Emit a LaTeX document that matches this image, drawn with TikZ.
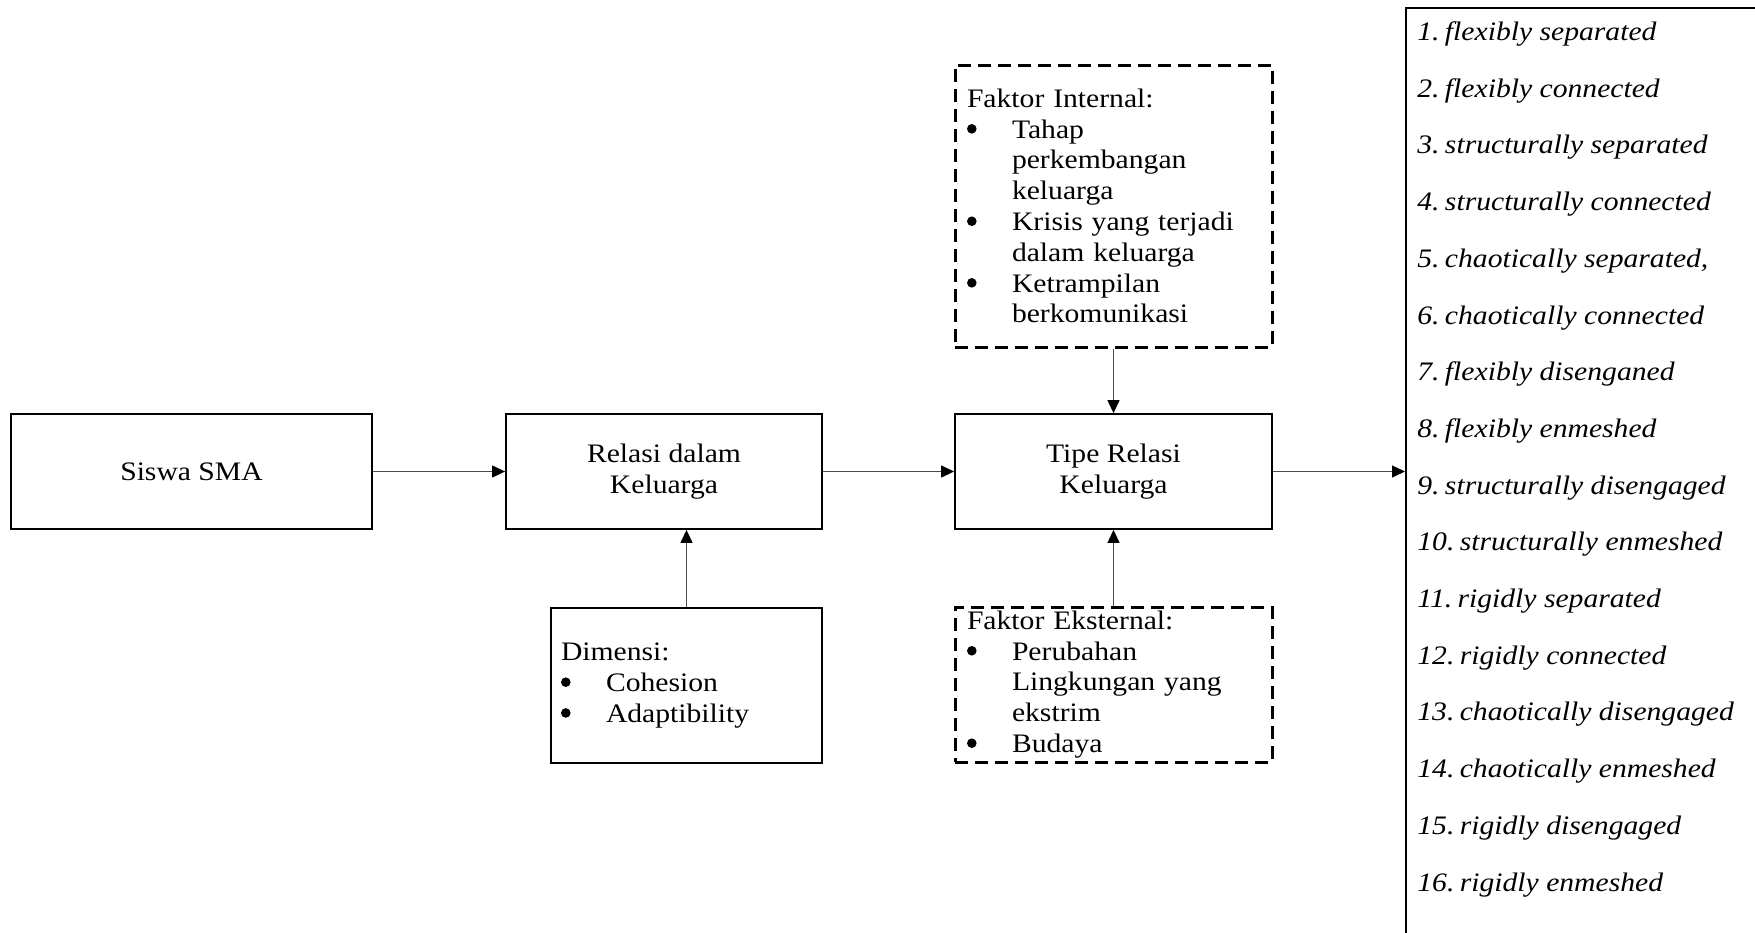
\documentclass[tikz,border=0pt]{standalone}
\usepackage{fontspec}
\setmainfont[FakeStretch=1.11]{Liberation Serif}
\usetikzlibrary{arrows.meta}
\newcommand{\bulmark}{\makebox[22.5pt][l]{\tikz[baseline=0pt]\fill (2.5pt,4.65pt) circle (2.4pt);}}
\newcommand{\bulind}{\hspace*{22.5pt}}
\tikzset{
  txt/.style={font=\fontsize{13.35pt}{15.4pt}\selectfont},
  box/.style={draw, line width=0.9pt, inner sep=0pt, txt},
  dbox/.style={draw, line width=1.5pt, dash pattern=on 6.5pt off 3.5pt, inner ysep=0pt, txt},
  arr/.style={line width=0.6pt, draw=black!70, -{Triangle[length=6.5pt,width=6pt,color=black]}},
  listitem/.style={anchor=base west, inner sep=0pt, font=\fontsize{13.35pt}{15.4pt}\selectfont\itshape},
}
\begin{document}
\begin{tikzpicture}[x=0.5pt, y=-0.5pt]
\useasboundingbox (0,0) rectangle (1755,932);

\node[box, minimum width=180.5pt, minimum height=57.5pt] (siswa) at (191.5,471.5) {Siswa SMA};
\node[box, minimum width=158pt, minimum height=57.5pt, align=center] (rel) at (664,471.5) {Relasi dalam\\Keluarga};
\node[box, minimum width=158.5pt, minimum height=57.5pt, align=center] (tipe) at (1113.5,471.5) {Tipe Relasi\\Keluarga};

\node[box, minimum width=135.5pt, minimum height=77.5pt, inner xsep=5pt, text width=125.5pt, align=left] (dim) at (686.5,685.5)
  {Dimensi:\\\bulmark Cohesion\\\bulmark Adaptibility};

\node[dbox, minimum width=158.5pt, minimum height=141pt, inner xsep=6pt, text width=146.5pt, align=left] (int) at (1113.5,206)
  {Faktor Internal:\\\bulmark Tahap\\\bulind perkembangan\\\bulind keluarga\\\bulmark Krisis yang terjadi\\\bulind dalam keluarga\\\bulmark Ketrampilan\\\bulind berkomunikasi};

\node[dbox, minimum width=158.5pt, minimum height=77.5pt, inner xsep=6pt, text width=146.5pt, align=left] (eks) at (1113.5,684.5)
  {Faktor Eksternal:\\\bulmark Perubahan\\\bulind Lingkungan yang\\\bulind ekstrim\\\bulmark Budaya};

\node[draw, line width=0.9pt, inner sep=0pt, minimum width=200pt, minimum height=480pt, anchor=north west] (list) at (1405,7) {};

\foreach \k/\t in {1/flexibly separated, 2/flexibly connected, 3/structurally separated, 4/structurally connected,
  5/{chaotically separated,}, 6/chaotically connected, 7/flexibly disenganed, 8/flexibly enmeshed,
  9/structurally disengaged, 10/structurally enmeshed, 11/rigidly separated, 12/rigidly connected,
  13/chaotically disengaged, 14/chaotically enmeshed, 15/rigidly disengaged, 16/rigidly enmeshed}
  \node[listitem] (item\k) at (1417, {40.5+56.7*(\k-1)}) {\k.\hspace{0.2em}\t};

\draw[arr] (siswa.east) -- (rel.west);
\draw[arr] (rel.east) -- (tipe.west);
\draw[arr] (tipe.east) -- (tipe.east -| list.west);
\draw[arr] (dim.north) -- (dim.north |- rel.south);
\draw[arr] (int.south) -- (tipe.north);
\draw[arr] (eks.north) -- (tipe.south);
\end{tikzpicture}
\end{document}
